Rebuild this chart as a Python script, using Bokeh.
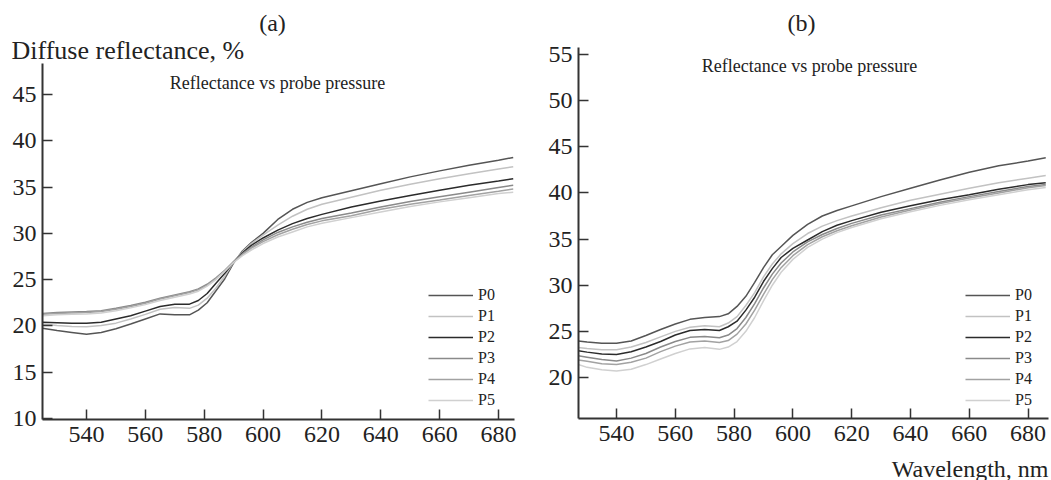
from bokeh.plotting import figure
from bokeh.models import Range1d, FixedTicker, Label, Legend, LegendItem
from bokeh.layouts import row
from bokeh.embed import file_html
from bokeh.resources import INLINE

# ---------------- data ----------------
SERIES = ["P0", "P1", "P2", "P3", "P4", "P5"]
COLORS = ["#555555", "#c2c2c2", "#2b2b2b", "#8a8a8a", "#a2a2a2", "#d0d0d0"]

W_A = [525, 530, 535, 540, 545, 550, 555, 560, 565, 570, 575, 578, 581, 584, 587,
       590, 593, 596, 600, 605, 610, 615, 620, 630, 640, 650, 660, 670, 680, 685]
A_P0 = [19.75, 19.5, 19.3, 19.1, 19.3, 19.7, 20.2, 20.75, 21.3, 21.2, 21.2, 21.7, 22.5, 23.8, 25.1,
        26.8, 28.1, 29.0, 30.0, 31.5, 32.6, 33.35, 33.85, 34.6, 35.35, 36.1, 36.75, 37.35, 37.9, 38.2]
A_P1 = [20.2, 20.05, 19.95, 19.9, 20.05, 20.3, 20.75, 21.25, 21.8, 22.0, 21.9, 22.25, 23.0, 24.1, 25.4,
        26.9, 28.0, 28.9, 29.8, 30.9, 31.85, 32.6, 33.15, 33.9, 34.65, 35.3, 35.9, 36.45, 36.95, 37.2]
A_P2 = [20.4, 20.35, 20.3, 20.3, 20.4, 20.75, 21.1, 21.6, 22.1, 22.35, 22.35, 22.75, 23.5, 24.6, 25.7,
        26.9, 27.9, 28.7, 29.5, 30.35, 31.05, 31.6, 32.05, 32.85, 33.5, 34.1, 34.65, 35.2, 35.65, 35.9]
A_P3 = [21.35, 21.45, 21.5, 21.55, 21.65, 21.9, 22.2, 22.55, 23.0, 23.35, 23.7, 24.0, 24.5, 25.2, 26.0,
        26.95, 27.8, 28.5, 29.3, 30.1, 30.7, 31.2, 31.6, 32.2, 32.85, 33.45, 33.95, 34.45, 34.95, 35.2]
A_P4 = [21.25, 21.35, 21.4, 21.45, 21.55, 21.8, 22.1, 22.45, 22.9, 23.25, 23.6, 23.9, 24.4, 25.1, 25.95,
        26.9, 27.7, 28.4, 29.1, 29.85, 30.45, 30.95, 31.35, 31.9, 32.6, 33.15, 33.6, 34.1, 34.55, 34.8]
A_P5 = [21.1, 21.2, 21.25, 21.3, 21.4, 21.65, 21.95, 22.3, 22.75, 23.1, 23.45, 23.75, 24.3, 25.0, 25.9,
        26.85, 27.6, 28.2, 28.9, 29.6, 30.15, 30.7, 31.1, 31.7, 32.3, 32.9, 33.4, 33.85, 34.3, 34.45]

W_B = [527, 530, 535, 540, 545, 550, 555, 560, 565, 570, 575, 578, 581, 584, 587,
       590, 593, 596, 600, 605, 610, 615, 620, 630, 640, 650, 660, 670, 680, 686]
B_P0 = [23.95, 23.85, 23.7, 23.7, 23.95, 24.55, 25.2, 25.8, 26.3, 26.5, 26.6, 26.9, 27.7, 28.8, 30.3,
        31.9, 33.3, 34.2, 35.4, 36.6, 37.5, 38.1, 38.6, 39.6, 40.5, 41.4, 42.25, 42.95, 43.45, 43.8]
B_P1 = [23.25, 23.15, 23.0, 23.0, 23.3, 23.8, 24.4, 25.0, 25.45, 25.6, 25.5, 25.9, 26.6, 27.8, 29.2,
        30.9, 32.3, 33.4, 34.5, 35.6, 36.4, 37.0, 37.5, 38.4, 39.2, 39.85, 40.5, 41.1, 41.6, 41.9]
B_P2 = [22.9, 22.75, 22.55, 22.5, 22.8, 23.3, 23.9, 24.6, 25.1, 25.2, 25.1, 25.5, 26.1, 27.3, 28.7,
        30.4, 31.8, 33.0, 34.0, 34.9, 35.8, 36.5, 37.0, 37.9, 38.6, 39.25, 39.8, 40.4, 40.9, 41.1]
B_P3 = [22.35, 22.2, 21.95, 21.8, 22.1, 22.6, 23.3, 23.9, 24.35, 24.45, 24.3, 24.6, 25.3, 26.5, 28.0,
        29.7, 31.2, 32.4, 33.6, 34.7, 35.5, 36.15, 36.7, 37.6, 38.3, 39.0, 39.6, 40.15, 40.7, 40.9]
B_P4 = [21.9, 21.75, 21.5, 21.4, 21.65, 22.1, 22.8, 23.4, 23.85, 23.95, 23.8, 24.0, 24.7, 25.8, 27.3,
        29.0, 30.6, 31.9, 33.2, 34.4, 35.25, 35.9, 36.45, 37.4, 38.15, 38.85, 39.45, 40.0, 40.55, 40.8]
B_P5 = [21.4, 21.1, 20.85, 20.7, 20.9, 21.4, 22.0, 22.6, 23.1, 23.25, 23.05, 23.3, 23.9, 25.0, 26.5,
        28.3, 30.0, 31.4, 32.8, 34.1, 35.0, 35.7, 36.25, 37.2, 37.95, 38.65, 39.25, 39.8, 40.35, 40.6]

X_TICKS = [540, 560, 580, 600, 620, 640, 660, 680]
Y_TICKS_A = [10, 15, 20, 25, 30, 35, 40, 45]
Y_TICKS_B = [20, 25, 30, 35, 40, 45, 50, 55]

# axis extents (data units) of each panel
XA_AXIS = (525.05, 685.4)
YA_AXIS = (9.89, 48.35)
XB_AXIS = (527.1, 687.0)
YB_AXIS = (15.55, 55.76)

TITLE_A = "(a)"
TITLE_B = "(b)"
YLABEL = "Diffuse reflectance, %"
XLABEL = "Wavelength, nm"
SUBTITLE = "Reflectance vs probe pressure"

SERIF = "Liberation Serif"
TXT = "#222222"
H = 480


def style(p, yticks, xb, yb):
    p.xgrid.visible = False
    p.ygrid.visible = False
    p.outline_line_color = None
    p.xaxis[0].fixed_location = yb[0]
    p.yaxis[0].fixed_location = xb[0]
    p.xaxis[0].bounds = xb
    p.yaxis[0].bounds = yb
    for ax, ticks in ((p.xaxis[0], X_TICKS), (p.yaxis[0], yticks)):
        ax.ticker = FixedTicker(ticks=ticks)
        ax.axis_line_color = "#333333"
        ax.axis_line_width = 2
        ax.major_tick_line_color = "#333333"
        ax.major_tick_line_width = 1.5
        ax.major_tick_in = 10
        ax.major_tick_out = 0
        ax.minor_tick_line_color = None
        ax.major_label_text_font = SERIF
        ax.major_label_text_font_size = "24px"
        ax.major_label_text_color = TXT
    p.xaxis[0].major_label_standoff = 7
    p.yaxis[0].major_label_standoff = 6


def add_lines(p, xs, ys_list, legend_x, legend_y):
    items = []
    for name, ys, c in zip(SERIES, ys_list, COLORS):
        r = p.line(xs, ys, line_color=c, line_width=1.5)
        items.append(LegendItem(label=name, renderers=[r]))
    lg = Legend(items=items, location=(legend_x, legend_y), glyph_width=45, glyph_height=20,
                label_height=20, spacing=1, padding=0, margin=0, label_standoff=5,
                border_line_color=None, background_fill_alpha=0,
                label_text_font=SERIF, label_text_font_size="16px", label_text_color=TXT)
    p.add_layout(lg)


def lab(p, text, x, y, size, align="center"):
    p.add_layout(Label(x=x, y=H - y, x_units="screen", y_units="screen", text=text,
                       text_font=SERIF, text_font_size=size, text_color=TXT,
                       text_align=align, text_baseline="middle"))


# ---------------- panel (a) ----------------
pa = figure(width=528, height=H, output_backend="svg", toolbar_location=None,
            x_range=Range1d(510.78, 690.19), y_range=Range1d(3.302, 55.154),
            min_border=0)
style(pa, Y_TICKS_A, XA_AXIS, YA_AXIS)
add_lines(pa, W_A, [A_P0, A_P1, A_P2, A_P3, A_P4, A_P5], 428, 70)
lab(pa, TITLE_A, 272, 22, "24px")
lab(pa, YLABEL, 11, 50, "26px", "left")
lab(pa, SUBTITLE, 277, 82, "18px")

# ---------------- panel (b) ----------------
pb = figure(width=523, height=H, output_backend="svg", toolbar_location=None,
            x_range=Range1d(510.07, 687.96), y_range=Range1d(8.84, 60.85),
            min_border=0)
style(pb, Y_TICKS_B, XB_AXIS, YB_AXIS)
add_lines(pb, W_B, [B_P0, B_P1, B_P2, B_P3, B_P4, B_P5], 437, 70)
lab(pb, TITLE_B, 273, 22, "24px")
lab(pb, SUBTITLE, 281, 65, "18px")
lab(pb, XLABEL, 520, 468, "24px", "right")

layout = row(pa, pb)
open("out.html", "w").write(file_html(layout, INLINE))
